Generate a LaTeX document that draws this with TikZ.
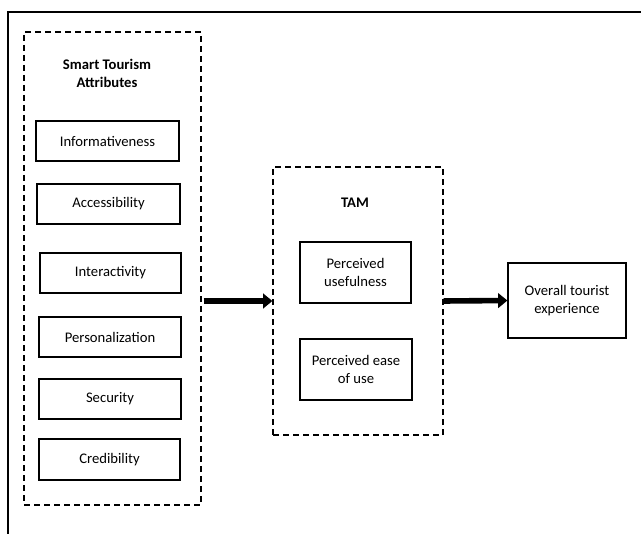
\documentclass[tikz,border=0pt]{standalone}
\usepackage{fontspec}
\setmainfont{Carlito}
\usetikzlibrary{arrows.meta}
\begin{document}
\begin{tikzpicture}[x=0.75pt,y=-0.75pt,
  box/.style={draw,line width=0.9pt,align=center,inner sep=0pt,font=\fontsize{11}{13.5}\selectfont},
  dbox/.style={draw,line width=0.9pt,dash pattern=on 4.5pt off 3pt,inner sep=0pt},
  ttl/.style={align=center,font=\fontsize{11}{13.5}\selectfont\bfseries},
  bigarrow/.style={line width=4.2pt,-{Triangle[length=7pt,width=11pt]}}]
\useasboundingbox (0,0) rectangle (641,534);
\draw[line width=1.1pt] (8,534) -- (8,12) -- (641,12);
% left group
\node[dbox,minimum width=132.75pt,minimum height=354.75pt] (stal) at (112.5,268.5) {};
\node[ttl] (sttitle) at (107,73) {Smart Tourism\\Attributes};
\node[box,minimum width=107.25pt,minimum height=30pt] (inf) at (107.5,141) {Informativeness};
\node[box,minimum width=107.25pt,minimum height=30pt] (acc) at (108.5,204) {Accessibility};
\node[box,minimum width=105.75pt,minimum height=30pt] (int) at (110.5,273) {Interactivity};
\node[box,minimum width=106.5pt,minimum height=30pt] (per) at (110,337) {Personalization};
\node[box,minimum width=106.5pt,minimum height=30pt] (sec) at (110,399) {Security};
\node[box,minimum width=105.75pt,minimum height=30.75pt] (cre) at (109.5,459.5) {Credibility};
% TAM group
\node[dbox,minimum width=127.5pt,minimum height=201pt] (tam) at (358,301) {};
\node[ttl] (tamtitle) at (355,203) {TAM};
\node[box,minimum width=83.25pt,minimum height=45.75pt] (pu) at (355.5,272.5) {Perceived\\usefulness};
\node[box,minimum width=84pt,minimum height=45.75pt] (peou) at (356,369.5) {Perceived ease\\of use};
% outcome
\node[box,minimum width=88.5pt,minimum height=56.25pt] (ote) at (567,300.5) {Overall tourist\\experience};
% arrows
\draw[bigarrow] ([xshift=1.5pt]stal.east |- tam.west) -- (tam.west);
\draw[bigarrow] (tam.east) -- (ote.west);
\end{tikzpicture}
\end{document}
